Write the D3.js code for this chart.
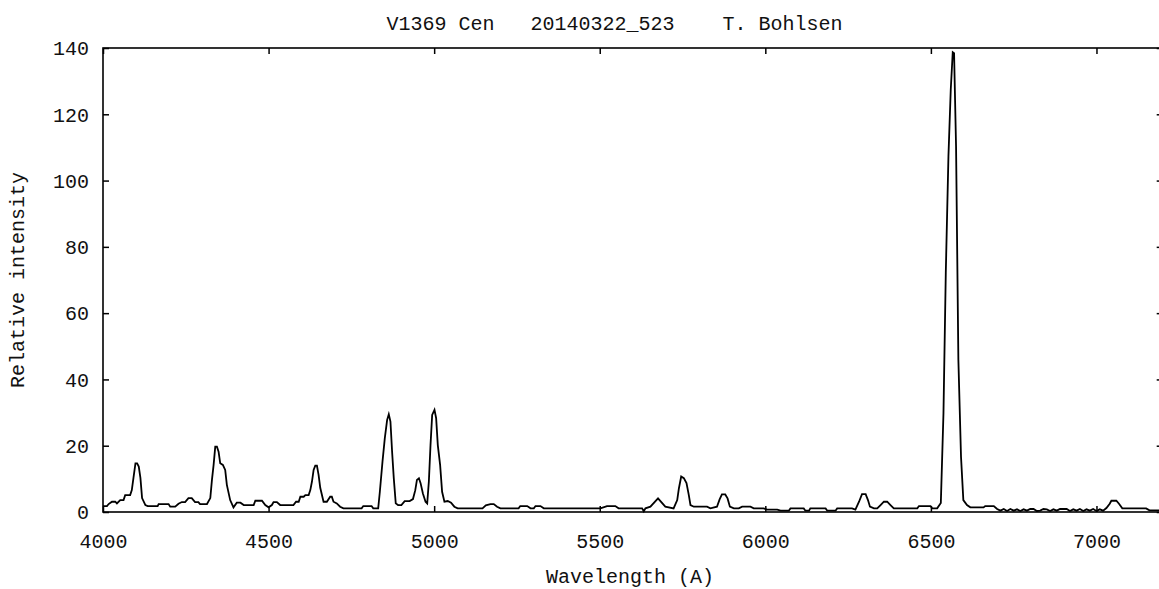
<!DOCTYPE html>
<html>
<head>
<meta charset="utf-8">
<script src="https://cdn.jsdelivr.net/npm/d3@7"></script>
<style>
  html, body { margin: 0; padding: 0; background: #fff; }
  svg { display: block; }
  text { font-family: "Liberation Mono", "DejaVu Sans Mono", monospace; font-size: 20px; fill: #111; white-space: pre; }
</style>
</head>
<body>
<svg id="chart" width="1159" height="589"></svg>
<script>
// Spectrum of V1369 Cen, 2014-03-22
const wavelength = [
  4000, 4002, 4012, 4017, 4027, 4037, 4042, 4052, 4062, 4067, 4077, 4082, 4087, 4092, 4098, 4103, 4108, 4113, 4118, 4128,
  4135, 4165, 4168, 4198, 4203, 4218, 4228, 4238, 4248, 4258, 4268, 4278, 4288, 4293, 4314, 4324, 4329, 4334, 4339, 4344,
  4349, 4354, 4362, 4369, 4374, 4384, 4394, 4404, 4415, 4425, 4455, 4460, 4480, 4490, 4500, 4510, 4515, 4525, 4535, 4545,
  4575, 4583, 4591, 4596, 4606, 4611, 4621, 4626, 4631, 4636, 4641, 4646, 4651, 4656, 4666, 4676, 4686, 4691, 4696, 4706,
  4716, 4726, 4781, 4786, 4811, 4816, 4831, 4836, 4844, 4851, 4858, 4863, 4868, 4873, 4878, 4884, 4891, 4901, 4911, 4926,
  4936, 4943, 4948, 4954, 4959, 4966, 4974, 4979, 4984, 4989, 4994, 5001, 5006, 5011, 5018, 5024, 5031, 5041, 5051, 5061,
  5071, 5146, 5156, 5170, 5180, 5190, 5200, 5255, 5260, 5281, 5291, 5301, 5306, 5321, 5331, 5502, 5522, 5547, 5557, 5628,
  5633, 5638, 5653, 5676, 5698, 5723, 5734, 5739, 5746, 5754, 5762, 5769, 5774, 5784, 5824, 5834, 5854, 5862, 5869, 5879,
  5886, 5893, 5905, 5920, 5930, 5955, 5965, 5995, 6005, 6036, 6046, 6071, 6076, 6116, 6121, 6132, 6136, 6182, 6187, 6212,
  6217, 6262, 6272, 6283, 6292, 6303, 6310, 6316, 6328, 6338, 6348, 6358, 6368, 6378, 6388, 6459, 6464, 6499, 6504, 6519,
  6530, 6538, 6545, 6553, 6560, 6566, 6570, 6576, 6583, 6591, 6598, 6609, 6619, 6659, 6664, 6690, 6700, 6710, 6720, 6730,
  6740, 6750, 6760, 6770, 6780, 6790, 6800, 6810, 6820, 6830, 6840, 6850, 6860, 6870, 6880, 6890, 6900, 6910, 6920, 6930,
  6940, 6950, 6960, 6970, 6980, 6990, 7000, 7010, 7020, 7030, 7040, 7045, 7060, 7068, 7078, 7150, 7160, 7195
];
const intensity = [
  1.8, 1.8, 1.8, 2.4, 3.1, 3.1, 2.6, 3.6, 3.6, 5.1, 5.1, 5.1, 6.6, 10.3, 14.7, 14.7, 13.7, 10.3, 4.2, 2.1,
  1.8, 1.8, 2.4, 2.4, 1.6, 1.6, 2.5, 3.0, 3.0, 4.2, 4.2, 3.0, 3.0, 2.4, 2.4, 4.2, 9.7, 14.2, 19.7, 19.7,
  18.2, 14.7, 14.2, 12.7, 8.2, 3.6, 1.4, 2.8, 2.8, 2.1, 2.1, 3.4, 3.4, 2.1, 1.4, 2.1, 3.0, 3.0, 2.1, 2.1,
  2.1, 3.1, 3.1, 4.6, 4.6, 5.1, 5.1, 6.6, 9.2, 12.7, 14.0, 14.0, 11.2, 7.3, 3.1, 3.1, 4.6, 4.6, 3.1, 2.6,
  1.6, 1.1, 1.1, 1.8, 1.8, 1.1, 1.1, 6.1, 15.2, 22.3, 27.8, 29.5, 27.3, 18.2, 10.3, 2.6, 2.1, 2.1, 3.3, 3.3,
  3.9, 6.6, 9.7, 10.2, 8.7, 5.6, 3.1, 2.6, 9.2, 20.2, 29.3, 30.8, 28.3, 20.2, 14.2, 6.1, 3.1, 3.3, 2.8, 1.6,
  1.1, 1.1, 2.0, 2.4, 2.4, 1.6, 1.1, 1.1, 1.8, 1.8, 1.1, 1.1, 1.8, 1.8, 1.1, 1.1, 1.8, 1.8, 1.1, 1.1,
  0.2, 1.1, 1.6, 4.1, 1.6, 1.1, 3.6, 7.1, 10.7, 10.2, 8.7, 5.1, 2.1, 1.6, 1.6, 1.1, 1.6, 3.8, 5.3, 5.3,
  4.1, 1.6, 1.1, 1.1, 1.6, 1.6, 1.1, 1.1, 0.7, 0.7, 0.4, 0.4, 1.1, 1.1, 0.4, 0.4, 1.1, 1.1, 0.4, 0.4,
  1.1, 1.1, 0.7, 3.1, 5.4, 5.4, 3.6, 1.6, 1.1, 1.1, 2.1, 3.1, 3.1, 2.1, 1.1, 1.1, 1.8, 1.8, 1.1, 1.1,
  2.7, 29.9, 72.2, 107.3, 127.5, 138.7, 138.4, 110.3, 45.9, 16.6, 3.6, 2.1, 1.4, 1.4, 1.8, 1.8, 0.9, 0.4, 0.9, 0.3,
  0.9, 0.4, 0.8, 0.3, 0.8, 0.4, 0.9, 0.9, 0.3, 0.4, 0.9, 0.8, 0.3, 0.8, 0.4, 0.9, 0.9, 0.9, 0.3, 0.8,
  0.4, 0.9, 0.3, 0.8, 0.4, 0.9, 0.3, 0.8, 0.4, 1.2, 2.5, 3.4, 3.4, 2.5, 1.1, 1.1, 0.5, 0.5
];
const xTicks = [4000, 4500, 5000, 5500, 6000, 6500, 7000];
const yTicks = [0, 20, 40, 60, 80, 100, 120, 140];
const titleText = "V1369 Cen   20140322_523    T. Bohlsen";
const xLabel = "Wavelength (A)";
const yLabel = "Relative intensity";

const svg = d3.select("#chart");
const plot = { left: 103, top: 48, bottom: 512, right: 1162.7 };

const x = d3.scaleLinear().domain([4000, 7200]).range([plot.left, plot.right]);
const y = d3.scaleLinear().domain([0, 140]).range([plot.bottom, plot.top]);
const tickLen = 6;
const fmt = d3.format("d");

// spectrum trace
const points = wavelength.map((w, i) => [w, intensity[i]]);
svg.append("path")
  .datum(points)
  .attr("fill", "none")
  .attr("stroke", "#000")
  .attr("stroke-width", 1.8)
  .attr("stroke-linejoin", "miter")
  .attr("d", d3.line().x(d => x(d[0])).y(d => y(d[1])));

// axes: ticks point inward on all four sides, labels on left and bottom
const bottomAxis = d3.axisBottom(x).tickValues(xTicks).tickFormat(fmt).tickSizeInner(-tickLen).tickSizeOuter(0).tickPadding(36);
const topAxis = d3.axisTop(x).tickValues(xTicks).tickSizeInner(-tickLen).tickSizeOuter(0).tickFormat("");
const leftAxis = d3.axisLeft(y).tickValues(yTicks).tickFormat(fmt).tickSizeInner(-tickLen).tickSizeOuter(0).tickPadding(14);
const rightAxis = d3.axisRight(y).tickValues(yTicks).tickSizeInner(-tickLen).tickSizeOuter(0).tickFormat("");

function styleAxis(g) {
  g.select(".domain").remove();
  g.selectAll(".tick line").attr("stroke", "#000").attr("stroke-width", 1.5);
  g.selectAll(".tick text")
    .attr("font-family", "Liberation Mono, DejaVu Sans Mono, monospace")
    .attr("font-size", 20).attr("fill", "#111");
}

svg.append("g").attr("transform", `translate(0,${plot.bottom})`).call(bottomAxis).call(styleAxis)
  .selectAll(".tick text").attr("dy", "0");
svg.append("g").attr("transform", `translate(0,${plot.top})`).call(topAxis).call(styleAxis);
svg.append("g").attr("transform", `translate(${plot.left},0)`).call(leftAxis).call(styleAxis)
  .selectAll(".tick text").attr("dy", "0.34em");
svg.append("g").attr("transform", `translate(${plot.right},0)`).call(rightAxis).call(styleAxis);

// frame
svg.append("rect")
  .attr("x", plot.left).attr("y", plot.top)
  .attr("width", plot.right - plot.left).attr("height", plot.bottom - plot.top)
  .attr("fill", "none").attr("stroke", "#000").attr("stroke-width", 1.6);

// titles
svg.append("text").attr("x", 614.5).attr("y", 30).attr("text-anchor", "middle").text(titleText);
svg.append("text").attr("x", 630).attr("y", 583).attr("text-anchor", "middle").text(xLabel);
svg.append("text").attr("transform", "translate(24,280) rotate(-90)").attr("text-anchor", "middle").text(yLabel);
</script>
</body>
</html>
